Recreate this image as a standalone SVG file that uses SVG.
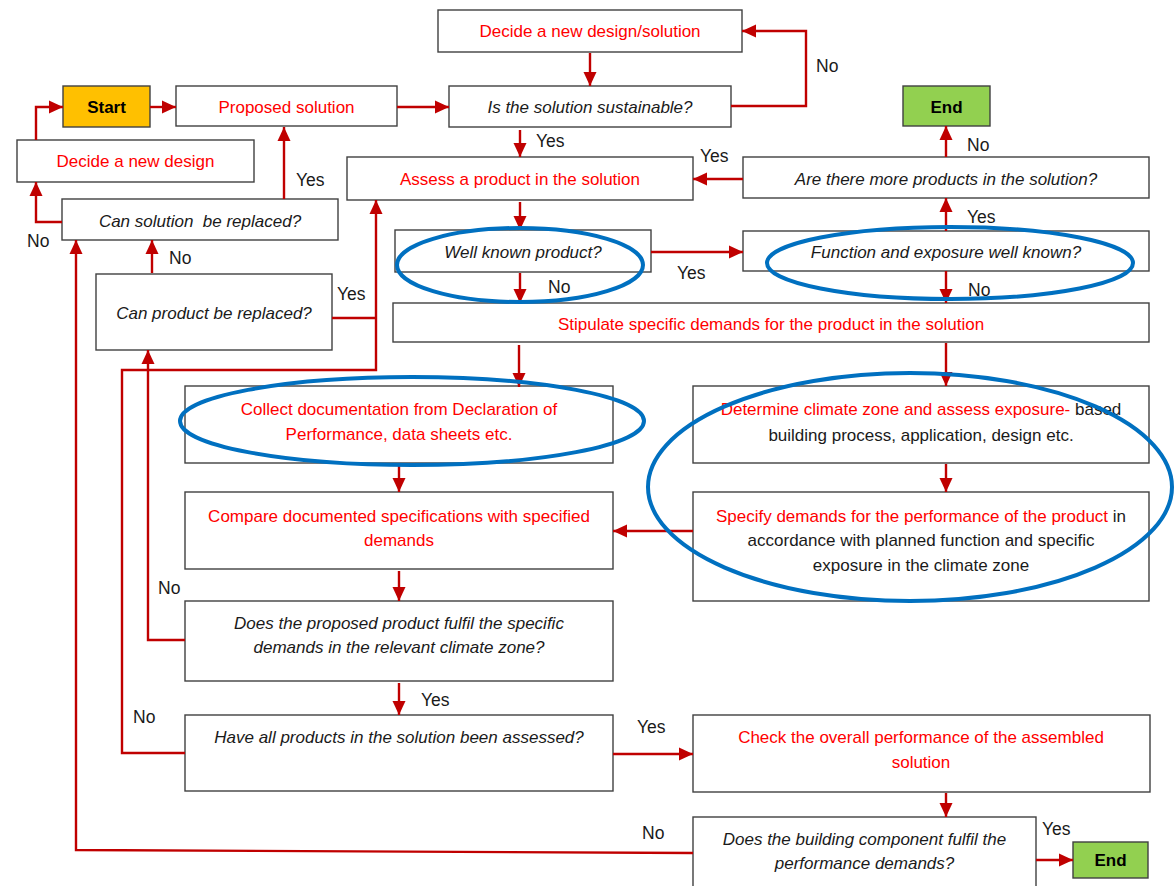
<svg xmlns="http://www.w3.org/2000/svg" width="1175" height="886" viewBox="0 0 1175 886">
<style>
.box{fill:#fff;stroke:#404040;stroke-width:1.4}
.t{font-family:"Liberation Sans",Arial,sans-serif;font-size:17px;text-anchor:middle}
.r{fill:#ff0000}
.q{fill:#1a1a1a;font-style:italic}
.k{fill:#1a1a1a}
.b{fill:#000;font-weight:bold}
.lbl{font-family:"Liberation Sans",Arial,sans-serif;font-size:17.5px;fill:#1a1a1a}
.c{fill:none;stroke:#c00000;stroke-width:2.4}
.ov{fill:none;stroke:#0070c0;stroke-width:4}
</style>
<defs>
<marker id="ah" markerUnits="userSpaceOnUse" markerWidth="14" markerHeight="14" viewBox="0 0 14 14" refX="14" refY="7" orient="auto">
<path d="M0,0.5 L14,7 L0,13.5 z" fill="#c00000"/>
</marker>
</defs>
<g id="n-decide-solution"><rect class="box" x="438" y="10" width="304" height="42"/><text class="t r" x="590" y="37">Decide a new design/solution</text></g>
<g id="n-start"><rect x="63" y="86" width="87" height="41" fill="#ffc000" stroke="#404040" stroke-width="1.4"/><text class="t b" x="106.5" y="113">Start</text></g>
<g id="n-proposed"><rect class="box" x="176" y="86" width="221" height="40"/><text class="t r" x="286.5" y="113">Proposed solution</text></g>
<g id="n-sustainable"><rect class="box" x="449" y="86" width="282" height="41"/><text class="t q" x="590" y="113">Is the solution sustainable?</text></g>
<g id="n-end-top"><rect x="903" y="86" width="87" height="40" fill="#92d050" stroke="#404040" stroke-width="1.4"/><text class="t b" x="946.5" y="113">End</text></g>
<g id="n-decide-design"><rect class="box" x="17" y="140" width="237" height="42"/><text class="t r" x="135.5" y="167">Decide a new design</text></g>
<g id="n-assess"><rect class="box" x="347" y="157" width="346" height="43"/><text class="t r" x="520" y="185">Assess a product in the solution</text></g>
<g id="n-more"><rect class="box" x="743" y="157" width="406" height="41"/><text class="t q" x="946" y="185">Are there more products in the solution?</text></g>
<g id="n-can-solution"><rect class="box" x="62" y="199" width="276" height="41"/><text class="t q" x="200" y="227" xml:space="preserve">Can solution  be replaced?</text></g>
<g id="n-well-known"><rect class="box" x="395" y="230" width="256" height="42"/><text class="t q" x="523" y="258">Well known product?</text></g>
<g id="n-function"><rect class="box" x="743" y="231" width="406" height="40"/><text class="t q" x="946" y="258">Function and exposure well known?</text></g>
<g id="n-can-product"><rect class="box" x="96" y="274" width="236" height="76"/><text class="t q" x="214" y="319">Can product be replaced?</text></g>
<g id="n-stipulate"><rect class="box" x="393" y="303" width="756" height="39"/><text class="t r" x="771" y="330">Stipulate specific demands for the product in the solution</text></g>
<g id="n-collect"><rect class="box" x="185" y="386" width="428" height="77"/><text class="t r" x="399" y="415">Collect documentation from Declaration of</text><text class="t r" x="399" y="440">Performance, data sheets etc.</text></g>
<g id="n-determine"><rect class="box" x="693" y="386" width="456" height="77"/><text class="t" x="921" y="415"><tspan class="r">Determine climate zone and assess exposure-</tspan><tspan class="k"> based</tspan></text><text class="t k" x="921" y="441">building process, application, design etc.</text></g>
<g id="n-compare"><rect class="box" x="185" y="492" width="428" height="77"/><text class="t r" x="399" y="522">Compare documented specifications with specified</text><text class="t r" x="399" y="546">demands</text></g>
<g id="n-specify"><rect class="box" x="693" y="492" width="456" height="109"/><text class="t" x="921" y="522"><tspan class="r">Specify demands for the performance of the product</tspan><tspan class="k"> in</tspan></text><text class="t k" x="921" y="546">accordance with planned function and specific</text><text class="t k" x="921" y="571">exposure in the climate zone</text></g>
<g id="n-fulfil-product"><rect class="box" x="185" y="601" width="428" height="80"/><text class="t q" x="399" y="629">Does the proposed product fulfil the specific</text><text class="t q" x="399" y="653">demands in the relevant climate zone?</text></g>
<g id="n-all-assessed"><rect class="box" x="185" y="715" width="428" height="76"/><text class="t q" x="399" y="743">Have all products in the solution been assessed?</text></g>
<g id="n-check"><rect class="box" x="693" y="715" width="457" height="77"/><text class="t r" x="921" y="743">Check the overall performance of the assembled</text><text class="t r" x="921" y="768">solution</text></g>
<g id="n-fulfil-component"><rect class="box" x="693" y="817" width="343" height="80"/><text class="t q" x="864.5" y="845">Does the building component fulfil the</text><text class="t q" x="864.5" y="869">performance demands?</text></g>
<g id="n-end-bottom"><rect x="1073" y="842" width="75" height="36" fill="#92d050" stroke="#404040" stroke-width="1.4"/><text class="t b" x="1110.5" y="866">End</text></g>
<g id="connectors">
<path class="c" d="M36,140 V107 H63" marker-end="url(#ah)"/>
<path class="c" d="M150,107 H176" marker-end="url(#ah)"/>
<path class="c" d="M397,107 H449" marker-end="url(#ah)"/>
<path class="c" d="M590,53 V86" marker-end="url(#ah)"/>
<path class="c" d="M731,106 H806 V31 H742" marker-end="url(#ah)"/>
<path class="c" d="M520,130 V157" marker-end="url(#ah)"/>
<path class="c" d="M743,179 H693" marker-end="url(#ah)"/>
<path class="c" d="M946,157 V126" marker-end="url(#ah)"/>
<path class="c" d="M946,231 V198" marker-end="url(#ah)"/>
<path class="c" d="M520,202 V230" marker-end="url(#ah)"/>
<path class="c" d="M651,252 H743" marker-end="url(#ah)"/>
<path class="c" d="M520,273 V303" marker-end="url(#ah)"/>
<path class="c" d="M946,271 V303" marker-end="url(#ah)"/>
<path class="c" d="M519,345 V387" marker-end="url(#ah)"/>
<path class="c" d="M946,343 V386" marker-end="url(#ah)"/>
<path class="c" d="M946,464 V492" marker-end="url(#ah)"/>
<path class="c" d="M693,531 H613" marker-end="url(#ah)"/>
<path class="c" d="M399,464 V492" marker-end="url(#ah)"/>
<path class="c" d="M399,571 V601" marker-end="url(#ah)"/>
<path class="c" d="M399,683 V715" marker-end="url(#ah)"/>
<path class="c" d="M185,640 H148 V350" marker-end="url(#ah)"/>
<path class="c" d="M185,753 H122 V370 H376 V200" marker-end="url(#ah)"/>
<path class="c" d="M332,318 H376"/>
<path class="c" d="M152,273 V240" marker-end="url(#ah)"/>
<path class="c" d="M62,222 H36 V182" marker-end="url(#ah)"/>
<path class="c" d="M284,199 V127" marker-end="url(#ah)"/>
<path class="c" d="M693,853 L76,850 V240" marker-end="url(#ah)"/>
<path class="c" d="M613,754 H693" marker-end="url(#ah)"/>
<path class="c" d="M946,793 V817" marker-end="url(#ah)"/>
<path class="c" d="M1036,860 H1073" marker-end="url(#ah)"/>
</g>
<g id="labels">
<text class="lbl" x="816" y="72">No</text>
<text class="lbl" x="536" y="147">Yes</text>
<text class="lbl" x="700" y="162">Yes</text>
<text class="lbl" x="967" y="151">No</text>
<text class="lbl" x="967" y="223">Yes</text>
<text class="lbl" x="677" y="279">Yes</text>
<text class="lbl" x="548" y="293">No</text>
<text class="lbl" x="968" y="296">No</text>
<text class="lbl" x="296" y="186">Yes</text>
<text class="lbl" x="169" y="264">No</text>
<text class="lbl" x="337" y="300">Yes</text>
<text class="lbl" x="27" y="247">No</text>
<text class="lbl" x="158" y="594">No</text>
<text class="lbl" x="133" y="723">No</text>
<text class="lbl" x="421" y="706">Yes</text>
<text class="lbl" x="637" y="733">Yes</text>
<text class="lbl" x="642" y="839">No</text>
<text class="lbl" x="1042" y="835">Yes</text>
</g>
<g id="highlights">
<ellipse class="ov" cx="520" cy="265" rx="123" ry="37"/>
<ellipse class="ov" cx="950" cy="263" rx="183" ry="36"/>
<ellipse class="ov" cx="412" cy="421" rx="232" ry="44"/>
<ellipse class="ov" cx="910" cy="487" rx="262" ry="114"/>
</g>
</svg>
